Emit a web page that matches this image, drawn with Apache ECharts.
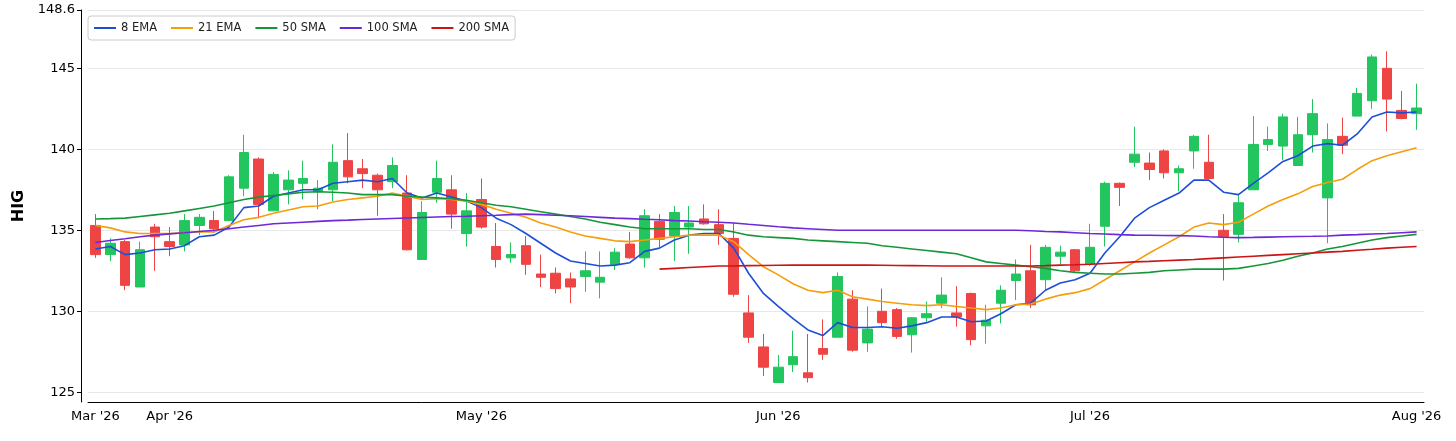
<!DOCTYPE html>
<html><head><meta charset="utf-8">
<script src="https://cdn.jsdelivr.net/npm/echarts@6/dist/echarts.min.js"></script>
<style>html,body{margin:0;padding:0;background:#fff}#c{width:1456px;height:441px}</style>
</head><body><div id="c"></div>
<script>
const dates = [
'2026-03-25','2026-03-26','2026-03-27','2026-03-30','2026-03-31',
'2026-04-01','2026-04-02','2026-04-06','2026-04-07','2026-04-08','2026-04-09','2026-04-10','2026-04-13','2026-04-14','2026-04-15','2026-04-16','2026-04-17','2026-04-20','2026-04-21','2026-04-22','2026-04-23','2026-04-24','2026-04-27','2026-04-28','2026-04-29','2026-04-30',
'2026-05-01','2026-05-04','2026-05-05','2026-05-06','2026-05-07','2026-05-08','2026-05-11','2026-05-12','2026-05-13','2026-05-14','2026-05-15','2026-05-18','2026-05-19','2026-05-20','2026-05-21','2026-05-22','2026-05-26','2026-05-27','2026-05-28','2026-05-29',
'2026-06-01','2026-06-02','2026-06-03','2026-06-04','2026-06-05','2026-06-08','2026-06-09','2026-06-10','2026-06-11','2026-06-12','2026-06-15','2026-06-16','2026-06-17','2026-06-18','2026-06-22','2026-06-23','2026-06-24','2026-06-25','2026-06-26','2026-06-29','2026-06-30',
'2026-07-01','2026-07-02','2026-07-06','2026-07-07','2026-07-08','2026-07-09','2026-07-10','2026-07-13','2026-07-14','2026-07-15','2026-07-16','2026-07-17','2026-07-20','2026-07-21','2026-07-22','2026-07-23','2026-07-24','2026-07-27','2026-07-28','2026-07-29','2026-07-30','2026-07-31',
'2026-08-03'];
// [open, high, low, close]
const ohlc = [
[135.3,136.0,133.3,133.5],[133.5,134.5,133.1,134.2],[134.3,134.4,131.3,131.6],[131.5,134.3,131.5,133.8],[135.2,135.4,132.5,134.6],
[134.3,135.2,133.4,134.0],[134.1,136.0,133.7,135.6],[135.3,136.0,134.7,135.8],[135.6,136.2,134.85,135.1],[135.6,138.4,135.6,138.3],
[137.6,140.9,137.1,139.8],[139.4,139.5,135.75,136.6],[136.2,138.6,136.2,138.45],[137.5,138.7,136.6,138.1],[137.9,139.3,136.9,138.2],
[137.4,138.1,136.3,137.6],[137.5,140.3,136.8,139.2],[139.3,141.0,137.9,138.3],[138.8,139.4,137.6,138.5],[138.4,138.5,135.9,137.5],
[138.0,139.5,137.6,139.0],[137.3,138.4,133.75,133.8],[133.2,136.8,133.2,136.1],[137.35,139.3,136.7,138.2],[137.5,138.4,135.1,136.0],
[134.8,137.3,134.0,136.2],[136.9,138.2,135.1,135.2],[134.0,135.45,132.7,133.2],[133.3,134.25,133.0,133.5],[134.05,134.65,132.25,132.9],
[132.3,133.5,131.5,132.1],[132.35,132.7,131.1,131.4],[132.0,132.4,130.5,131.5],[132.15,133.7,131.2,132.5],[131.8,133.7,130.8,132.1],
[132.9,133.9,132.55,133.65],[134.15,134.9,133.25,133.3],[133.3,136.3,132.7,135.9],[135.55,136.0,133.95,134.45],[134.65,136.5,133.1,136.1],
[135.2,136.5,133.55,135.45],[135.7,136.6,135.35,135.4],[135.35,136.3,134.1,134.8],[134.5,135.45,130.9,131.05],[129.9,131.0,128.05,128.4],
[127.8,128.6,126.0,126.55],[125.6,127.3,125.6,126.55],[126.7,128.8,126.25,127.2],[126.2,128.6,125.6,125.9],[127.7,129.5,127.0,127.35],
[128.4,132.4,128.4,132.15],[130.75,131.3,127.5,127.6],[128.05,130.3,127.5,128.9],[130.0,131.4,129.05,129.3],[130.1,130.2,128.3,128.45],
[128.55,129.65,127.45,129.6],[129.6,130.6,129.35,129.85],[130.5,132.1,130.2,131.0],[129.9,131.55,129.05,129.65],[131.1,131.15,127.9,128.25],
[129.1,130.4,128.0,129.45],[130.5,131.6,129.25,131.3],[131.9,133.2,130.7,132.3],[132.5,134.1,130.2,130.4],[131.95,134.1,131.3,133.95],
[133.4,134.05,132.9,133.65],[133.8,133.85,132.4,132.5],[132.9,135.4,132.8,133.95],[135.25,138.0,134.0,137.9],[137.9,137.95,136.5,137.65],
[139.2,141.4,138.9,139.7],[139.15,139.8,138.1,138.75],[139.9,140.0,138.2,138.55],[138.55,139.0,137.4,138.8],[139.9,140.9,138.8,140.8],
[139.2,140.9,138.15,138.2],[135.0,136.0,131.9,134.6],[134.75,137.2,134.25,136.7],[137.5,142.05,137.5,140.3],[140.3,141.4,139.9,140.6],
[140.2,142.2,139.35,142.0],[139.0,142.0,139.0,140.9],[140.9,143.1,139.8,142.2],[137.0,141.6,134.2,140.6],[140.8,141.95,139.7,140.25],
[142.05,143.8,142.05,143.45],[143.0,145.85,142.5,145.7],[145.0,146.05,141.1,143.1],[142.4,143.6,141.85,141.9],[142.2,144.05,141.2,142.55]];
const ema8 = [133.85,134.0,133.5,133.6,133.8,133.85,134.05,134.6,134.7,135.2,136.4,136.5,137.1,137.3,137.5,137.5,137.9,138.0,138.1,138.0,138.2,137.3,137.0,137.3,137.05,136.8,136.4,135.75,135.35,134.8,134.2,133.6,133.1,132.95,132.8,132.85,133.0,133.7,133.9,134.4,134.7,134.8,134.8,133.9,132.35,131.1,130.3,129.55,128.85,128.5,129.3,129.0,129.0,129.05,128.95,129.1,129.3,129.65,129.65,129.35,129.4,129.85,130.4,130.5,131.3,131.75,131.95,132.35,133.6,134.6,135.75,136.4,136.85,137.3,138.1,138.1,137.35,137.2,137.9,138.55,139.25,139.6,140.2,140.35,140.25,140.95,142.0,142.3,142.25,142.3];
const ema21 = [135.3,135.15,134.9,134.8,134.8,134.8,134.85,134.9,134.9,135.3,135.65,135.8,136.05,136.25,136.45,136.5,136.75,136.9,137.0,137.1,137.3,137.1,136.9,136.95,136.9,136.8,136.6,136.3,136.05,135.8,135.45,135.2,134.9,134.65,134.5,134.35,134.3,134.4,134.5,134.6,134.7,134.7,134.7,134.3,133.5,132.75,132.25,131.7,131.3,131.15,131.3,130.9,130.75,130.6,130.5,130.4,130.35,130.4,130.3,130.2,130.1,130.2,130.4,130.45,130.75,131.0,131.15,131.4,131.95,132.5,133.05,133.6,134.1,134.6,135.2,135.45,135.35,135.5,136.0,136.5,136.9,137.25,137.7,137.95,138.15,138.75,139.3,139.6,139.85,140.1];
const sma50 = [135.7,135.72,135.75,135.85,135.95,136.05,136.2,136.35,136.5,136.7,136.9,137.05,137.15,137.25,137.35,137.38,137.35,137.3,137.2,137.2,137.2,137.1,137.05,137.0,136.95,136.85,136.7,136.55,136.45,136.3,136.15,136.0,135.85,135.7,135.5,135.35,135.2,135.1,135.1,135.1,135.1,135.05,135.05,134.9,134.7,134.6,134.55,134.5,134.4,134.35,134.3,134.25,134.2,134.05,133.95,133.85,133.75,133.65,133.55,133.3,133.05,132.95,132.85,132.75,132.65,132.5,132.4,132.35,132.3,132.3,132.35,132.4,132.5,132.55,132.6,132.6,132.6,132.65,132.8,132.95,133.15,133.4,133.6,133.85,134.0,134.2,134.4,134.55,134.65,134.75];
const sma100 = [134.25,134.37,134.48,134.6,134.7,134.78,134.85,134.93,135.0,135.1,135.2,135.3,135.4,135.45,135.5,135.55,135.6,135.63,135.67,135.7,135.73,135.76,135.79,135.82,135.85,135.87,135.9,135.93,135.97,136.0,135.97,135.93,135.9,135.85,135.8,135.75,135.72,135.68,135.65,135.6,135.57,135.53,135.5,135.45,135.37,135.3,135.22,135.15,135.1,135.05,135.0,135.0,135.0,135.0,135.0,135.0,135.0,135.0,135.0,135.0,135.0,135.0,135.0,134.97,134.93,134.9,134.85,134.8,134.77,134.73,134.7,134.69,134.68,134.67,134.65,134.6,134.57,134.55,134.56,134.58,134.6,134.62,134.63,134.65,134.7,134.73,134.77,134.8,134.85,134.9];
const sma200 = [null,null,null,null,null,null,null,null,null,null,null,null,null,null,null,null,null,null,null,null,null,null,null,null,null,null,null,null,null,null,null,null,null,null,null,null,null,null,
132.6,132.65,132.7,132.75,132.8,132.8,132.82,132.83,132.84,132.85,132.85,132.85,132.85,132.85,132.85,132.84,132.83,132.82,132.81,132.8,132.8,132.8,132.8,132.8,132.8,132.8,132.82,132.85,132.87,132.9,132.95,133.0,133.05,133.08,133.12,133.16,133.2,133.25,133.3,133.35,133.4,133.45,133.5,133.55,133.6,133.65,133.7,133.77,133.83,133.9,133.95,134.0];
const monthNames = ['Jan','Feb','Mar','Apr','May','Jun','Jul','Aug','Sep','Oct','Nov','Dec'];

const isMonthStart = i => i === 0 || dates[i].slice(0,7) !== dates[i-1].slice(0,7);
const candle = ohlc.map(d => [d[0], d[3], d[2], d[1]]);
const chart = echarts.init(document.getElementById('c'));
const lineS = (name, data, color) => ({name, type:'line', data, symbol:'none', smooth:false, connectNulls:false,
  lineStyle:{color, width:1.6}, itemStyle:{color}, z:3});
chart.setOption({
  animation:false,
  textStyle:{fontFamily:'DejaVu Sans'},
  legend:{left:88, top:16, orient:'horizontal', itemWidth:22, itemHeight:2, itemGap:14, icon:'rect',
    borderColor:'#cccccc', borderWidth:1, borderRadius:3, padding:[6,6],
    textStyle:{fontSize:11.5, color:'#222'},
    data:['8 EMA','21 EMA','50 SMA','100 SMA','200 SMA']},
  grid:{left:88, right:32, top:10, bottom:39},
  xAxis:{type:'category', data:dates, boundaryGap:true,
    axisLine:{lineStyle:{color:'#000'}},
    axisTick:{alignWithLabel:true, interval:(i)=>isMonthStart(i), lineStyle:{color:'#000'}, length:4},
    axisLabel:{interval:(i)=>isMonthStart(i), color:'#000', fontSize:13, margin:8,
      formatter:(v)=>{const m=+v.slice(5,7); return monthNames[m-1]+" '"+v.slice(2,4);}},
    splitLine:{show:false}},
  yAxis:{type:'value', min:124.4, max:148.6, offset:7, name:'HIG', nameLocation:'middle', nameGap:50,
    nameTextStyle:{fontSize:16, fontWeight:'bold', color:'#000'},
    axisLine:{show:true, lineStyle:{color:'#000'}}, axisTick:{show:true, length:4, lineStyle:{color:'#000'}},
    axisLabel:{color:'#000', fontSize:13, margin:6},
    splitLine:{lineStyle:{color:'#e8e8e8'}}},
  series:[
    {name:'HIG', type:'candlestick', data:candle, barWidth:10,
     itemStyle:{color:'#22c55e', color0:'#ef4444', borderColor:'#22c55e', borderColor0:'#ef4444', borderWidth:1}, z:2},
    lineS('8 EMA', ema8, '#1d4ed8'),
    lineS('21 EMA', ema21, '#f59e0b'),
    lineS('50 SMA', sma50, '#16963a'),
    lineS('100 SMA', sma100, '#6d28d9'),
    lineS('200 SMA', sma200, '#cc1414')
  ]
});
</script></body></html>
